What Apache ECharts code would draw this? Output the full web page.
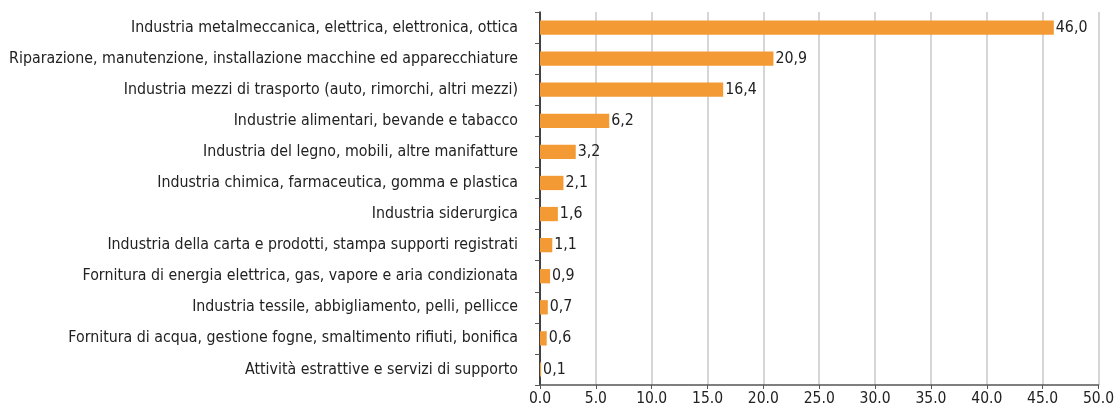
<!DOCTYPE html>
<html>
<head>
<meta charset="utf-8">
<script src="https://cdn.jsdelivr.net/npm/echarts@6/dist/echarts.min.js"></script>
<style>
  html, body { margin: 0; padding: 0; background: #fff; }
  #chart { width: 1117px; height: 407px; }
</style>
</head>
<body>
<div id="chart"></div>
<script>
// categories from top to bottom
const categories = [
    'Industria metalmeccanica, elettrica, elettronica, ottica',
    'Riparazione, manutenzione, installazione macchine ed apparecchiature',
    'Industria mezzi di trasporto (auto, rimorchi, altri mezzi)',
    'Industrie alimentari, bevande e tabacco',
    'Industria del legno, mobili, altre manifatture',
    'Industria chimica, farmaceutica, gomma e plastica',
    'Industria siderurgica',
    'Industria della carta e prodotti, stampa supporti registrati',
    'Fornitura di energia elettrica, gas, vapore e aria condizionata',
    'Industria tessile, abbigliamento, pelli, pellicce',
    'Fornitura di acqua, gestione fogne, smaltimento rifiuti, bonifica',
    'Attività estrattive e servizi di supporto'
];
const values = [46.0, 20.9, 16.4, 6.2, 3.2, 2.1, 1.6, 1.1, 0.9, 0.7, 0.6, 0.1];

const fontFamily = '"DejaVu Sans Condensed", "Liberation Sans Narrow", sans-serif';

const chart = echarts.init(document.getElementById('chart'));
chart.setOption({
    animation: false,
    grid: { left: 540, right: 15, top: 12, bottom: 22 },
    xAxis: {
        type: 'value',
        min: 0,
        max: 50,
        interval: 5,
        axisLine: { show: true, lineStyle: { color: '#555', width: 1.5 } },
        axisTick: { show: true, length: 4, lineStyle: { color: '#555' } },
        axisLabel: {
            color: '#222',
            fontFamily: fontFamily,
            fontSize: 15.5,
            margin: 6,
            formatter: v => v.toFixed(1)
        },
        splitLine: { show: true, lineStyle: { color: '#c8c8c8', width: 1.5 } }
    },
    yAxis: {
        type: 'category',
        inverse: true,
        data: categories,
        axisLine: { show: true, lineStyle: { color: '#111', width: 1.5 } },
        axisTick: { show: true, length: 5, lineStyle: { color: '#555' } },
        axisLabel: {
            color: '#222',
            fontFamily: fontFamily,
            fontSize: 15.8,
            margin: 22,
            padding: [0, 0, 3, 0]
        }
    },
    series: [{
        type: 'bar',
        data: values,
        barWidth: '46%',
        itemStyle: { color: '#F39A34' },
        label: {
            show: true,
            position: 'right',
            distance: 2,
            color: '#222',
            fontFamily: fontFamily,
            fontSize: 15.8,
            formatter: p => p.value.toFixed(1).replace('.', ',')
        }
    }]
});
</script>
</body>
</html>
